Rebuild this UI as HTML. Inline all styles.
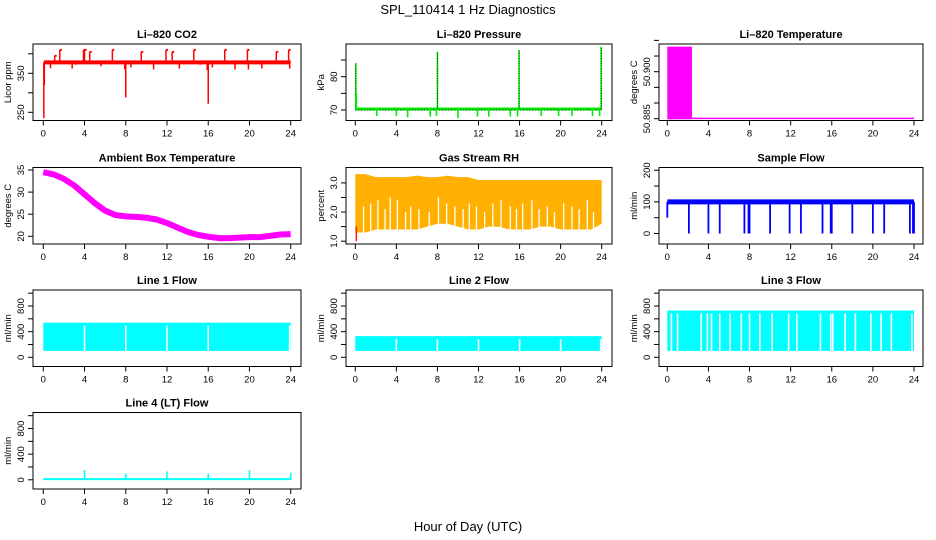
<!DOCTYPE html>
<html><head><meta charset="utf-8"><style>
html,body{margin:0;padding:0;background:#fff}
svg{display:block;font-family:"Liberation Sans",sans-serif}
</style></head><body>
<svg id="c" width="936" height="540" viewBox="0 0 936 540" xmlns="http://www.w3.org/2000/svg">
<text x="468" y="14" text-anchor="middle" font-size="13">SPL_110414  1 Hz Diagnostics</text>
<text x="468" y="531" text-anchor="middle" font-size="13">Hour of Day (UTC)</text>
</svg>
<script>
// ---- data ----
const xTicks = [0,4,8,12,16,20,24];
const co2Base = 378;
const co2SpikeTimes = [0.05,0.1,0.7,1.1,1.6,2.8,3.2,3.9,4.0,4.5,5.6,6.7,7.9,8.0,8.5,9.5,10.7,11.9,12.5,13.2,14.6,15.2,15.9,16.0,16.4,17.6,18.6,19.8,19.9,21.2,22.6,23.8,23.9];
const co2SpikeVals = [235,320,363,395,410,362,372,410,410,405,368,410,360,288,365,405,360,410,405,362,410,372,358,272,365,410,360,410,360,362,405,410,362];
const presBase = 70.3;
const presSpikeTimes = [0.05,0.1,2.1,4.0,5.1,7.3,7.9,8.0,10.0,11.9,13.0,15.1,15.8,15.95,18.1,19.8,21.1,23.1,23.8,23.95];
const presSpikeVals = [84,75,68.2,68.2,67.8,68,68.2,87.5,67.5,68,68,68,68,88,68.2,68.2,68.2,68.2,68.2,89];
const tempHiEnd = 2.4;
const tempRange = [50.8848,50.908];
const tempAfter = 50.8851;
const ambHours = [0,1,2,3,4,5,6,7,8,9,10,11,12,13,14,15,16,17,18,19,20,21,22,23,24];
const ambVals = [34.5,34.0,33.0,31.5,29.5,27.5,25.8,24.8,24.5,24.4,24.2,23.8,23.0,22.0,21.0,20.3,19.9,19.6,19.6,19.7,19.8,19.8,20.1,20.4,20.5];
const rhHours = [0,1,2,3,4,5,6,7,8,9,10,11,12,13,14,15,16,17,18,19,20,21,22,23,24];
const rhTop = [3.3,3.3,3.2,3.2,3.2,3.2,3.25,3.2,3.2,3.25,3.2,3.2,3.1,3.1,3.1,3.1,3.1,3.1,3.1,3.1,3.1,3.1,3.1,3.1,3.1];
const rhBot = [1.3,1.3,1.4,1.4,1.4,1.4,1.4,1.5,1.6,1.6,1.5,1.4,1.4,1.5,1.5,1.4,1.4,1.4,1.5,1.5,1.4,1.4,1.4,1.4,1.6];
const rhGapTimes = [0.8,1.5,2.2,2.9,3.4,4.1,4.9,5.4,6.2,7.2,8.1,8.9,9.7,10.5,11.1,11.8,12.6,13.4,14.2,15.1,15.7,16.3,17.2,17.9,18.7,19.4,20.3,21.1,21.8,22.6,23.2];
const rhGapVals = [2.2,2.3,2.4,2.1,2.5,2.4,2.0,2.2,2.1,2.0,2.5,2.3,2.2,2.1,2.3,2.2,2.0,2.3,2.4,2.2,2.1,2.3,2.4,2.1,2.2,2.0,2.3,2.2,2.1,2.4,2.0];
const sfBase = 100;
const sfDropTimes = [0,2.1,4.0,5.1,7.5,7.9,8.0,10.0,11.9,13.0,15.1,15.9,16.0,18.0,20.0,21.1,23.6,23.9,24];
const sfDropVals = [50,0,0,0,0,0,0,0,0,0,0,0,0,0,0,0,0,0,0];
const flowNames = ["Line 1 Flow","Line 2 Flow","Line 3 Flow"];
const flowTop = [540,330,730];
const flowBot = [100,100,100];
const flow1Gaps = [4.0,8.0,12.0,16.0,23.9];
const flow2Gaps = [4.0,8.0,12.0,16.0,20.0,23.9];
const flow3Gaps = [0.4,1.0,3.3,3.9,4.3,5.1,6.1,7.2,8.0,9.0,10.2,11.8,12.6,14.9,15.9,16.1,17.3,18.3,19.8,20.8,21.8,23.8];
const l4SpikeTimes = [4,8,12,16,20,24];
const l4SpikeVals = [150,100,130,100,150,110];

// ---- helpers ----
const S = document.getElementById('c');
const NS = 'http://www.w3.org/2000/svg';
function mk(tag, attrs, parent){const e=document.createElementNS(NS,tag);for(const k in attrs)e.setAttribute(k,attrs[k]);(parent||S).appendChild(e);return e;}
const cols = [{l:33,r:301,x0:43.3,x24:290.7},{l:346,r:612,x0:355.3,x24:601.7},{l:659,r:923,x0:667.3,x24:914}];
const rowsT = [44,167.5,290,412.5];
const BH = 76.5;

function makePanel(name,title,col,row,v1,o1,v2,o2,yTicks,yLabels,ylab){
  const c=cols[col], t=rowsT[row], b=t+BH;
  const g=mk('g',{});
  
  
  const X=h=>c.x0+(h/24)*(c.x24-c.x0);
  const Y=v=>t+o1+(v-v1)*(o2-o1)/(v2-v1);
  const tt=mk('text',{x:(c.l+c.r)/2,y:t-6,'text-anchor':'middle','font-size':'11','font-weight':'bold'},g);
  tt.textContent=title;
  
  
  const plot=mk('g',{},g);
  const box=mk('rect',{x:c.l,y:t,width:c.r-c.l,height:BH,fill:'none',stroke:'#000','stroke-width':1},g);
  
  
  const xa=mk('g',{},g);
  
  
  xTicks.forEach(h=>{
    mk('line',{x1:X(h),x2:X(h),y1:b,y2:b+5,stroke:'#000'},xa);
    const tx=mk('text',{x:X(h),y:b+16,'text-anchor':'middle','font-size':'9.5'},xa);tx.textContent=h;
  });
  const ya=mk('g',{},g);
  
  
  yTicks.forEach(v=>mk('line',{x1:c.l-5,x2:c.l,y1:Y(v),y2:Y(v),stroke:'#000'},ya));
  yLabels.forEach(v=>{
    const yy=Y(v.v);
    const tx=mk('text',{x:c.l-9,y:yy,'text-anchor':'middle','font-size':'9.5',transform:`rotate(-90 ${c.l-9} ${yy})`},ya);tx.textContent=v.t;
  });
  const yt=mk('text',{x:c.l-22,y:t+BH/2,'text-anchor':'middle','font-size':'9.5',transform:`rotate(-90 ${c.l-22} ${t+BH/2})`},ya);
  yt.textContent=ylab;
  
  
  return {plot,X,Y,c,t,b};
}
function vline(p,x,y1,y2,col,w){return mk('line',{x1:x,x2:x,y1:y1,y2:y2,stroke:col,'stroke-width':w||1.3},p);}

// CO2
{const P=makePanel('co2-panel','Li\u2013820 CO2',0,0,350,29.3,250,68.3,[250,300,350,400],[{v:250,t:'250'},{v:350,t:'350'}],'Licor ppm');
 const l=mk('line',{x1:P.X(0.05),x2:P.X(24),y1:P.Y(co2Base),y2:P.Y(co2Base),stroke:'#ff0000','stroke-width':4},P.plot);
 
 co2SpikeTimes.forEach((h,i)=>{const e=vline(P.plot,P.X(h),P.Y(co2Base),P.Y(co2SpikeVals[i]),'#ff0000',1.5);
  
  if(co2SpikeVals[i]>co2Base)mk('line',{x1:P.X(h),x2:P.X(h)+2,y1:P.Y(co2SpikeVals[i]),y2:P.Y(co2SpikeVals[i]),stroke:'#ff0000','stroke-width':2},P.plot);});
}
// Pressure
{const P=makePanel('pressure-panel','Li\u2013820 Pressure',1,0,70,66,80,32.7,[70,75,80,85],[{v:70,t:'70'},{v:80,t:'80'}],'kPa');
 const l=mk('line',{x1:P.X(0),x2:P.X(24),y1:P.Y(presBase),y2:P.Y(presBase),stroke:'#00ee00','stroke-width':3},P.plot);
 
 mk('line',{x1:P.X(0),x2:P.X(24),y1:P.Y(presBase)+1,y2:P.Y(presBase)+1,stroke:'#000','stroke-width':1,'stroke-dasharray':'1 2'},P.plot);
 presSpikeTimes.forEach((h,i)=>{const e=vline(P.plot,P.X(h),P.Y(presBase),P.Y(presSpikeVals[i]),'#00ee00',1.6);
  
  if(presSpikeVals[i]>80)mk('line',{x1:P.X(h),x2:P.X(h),y1:P.Y(presBase),y2:P.Y(presSpikeVals[i]),stroke:'#000','stroke-width':0.8,'stroke-dasharray':'1 1.5'},P.plot);});
}
// Li-820 temperature
{const P=makePanel('li820-temperature-panel','Li\u2013820 Temperature',2,0,50.885,74.7,50.900,27.7,[50.885,50.890,50.895,50.900,50.905,50.910],[{v:50.885,t:'50.885'},{v:50.900,t:'50.900'}],'degrees C');
 const r=mk('rect',{x:P.X(0),y:P.Y(tempRange[1]),width:P.X(tempHiEnd)-P.X(0),height:P.Y(tempRange[0])-P.Y(tempRange[1]),fill:'#ff00ff'},P.plot);
 
 const l=mk('line',{x1:P.X(tempHiEnd),x2:P.X(24),y1:P.Y(tempAfter),y2:P.Y(tempAfter),stroke:'#ff00ff','stroke-width':1.5},P.plot);
 
}
// Ambient
{const P=makePanel('ambient-temperature-panel','Ambient Box Temperature',0,1,35,2.5,20,68.8,[20,25,30,35],[{v:20,t:'20'},{v:25,t:'25'},{v:30,t:'30'},{v:35,t:'35'}],'degrees C');
 const pts=ambHours.map((h,i)=>P.X(h)+','+P.Y(ambVals[i])).join(' ');
 const l=mk('polyline',{points:pts,fill:'none',stroke:'#ff00ff','stroke-width':6,'stroke-linejoin':'round'},P.plot);
 
}
// RH
{const P=makePanel('gas-stream-rh-panel','Gas Stream RH',1,1,3.0,15.4,1.0,73.7,[1.0,1.5,2.0,2.5,3.0],[{v:1.0,t:'1.0'},{v:2.0,t:'2.0'},{v:3.0,t:'3.0'}],'percent');
 const top=rhHours.map((h,i)=>P.X(h)+','+P.Y(rhTop[i]));
 const bot=rhHours.map((h,i)=>P.X(h)+','+P.Y(rhBot[i])).reverse();
 const pg=mk('polygon',{points:top.concat(bot).join(' '),fill:'#ffb000'},P.plot);
 
 rhGapTimes.forEach((h,i)=>{const e=vline(P.plot,P.X(h),P.Y(1.2),P.Y(rhGapVals[i]),'#ffffff',1.3);
  });
 vline(P.plot,P.X(0.1),P.Y(1.5),P.Y(1.0),'#ff2000',1.5);
}
// Sample flow
{const P=makePanel('sample-flow-panel','Sample Flow',2,1,200,2.7,0,66,[0,50,100,150,200],[{v:0,t:'0'},{v:100,t:'100'},{v:200,t:'200'}],'ml/min');
 const l=mk('line',{x1:P.X(0),x2:P.X(24),y1:P.Y(sfBase),y2:P.Y(sfBase),stroke:'#0000ff','stroke-width':5},P.plot);
 
 sfDropTimes.forEach((h,i)=>{const e=vline(P.plot,P.X(h),P.Y(sfBase),P.Y(sfDropVals[i]),'#0000ff',1.8);
  });
}
// Line flows
const flowGaps=[flow1Gaps,flow2Gaps,flow3Gaps];
flowNames.forEach((nm,k)=>{
 const P=makePanel('line'+(k+1)+'-flow-panel',nm,k,2,800,16,0,67.3,[0,200,400,600,800,1000],[{v:0,t:'0'},{v:400,t:'400'},{v:800,t:'800'}],'ml/min');
 const r=mk('rect',{x:P.X(0),y:P.Y(flowTop[k]),width:P.X(24)-P.X(0),height:P.Y(flowBot[k])-P.Y(flowTop[k]),fill:'#00ffff'},P.plot);
 
 flowGaps[k].forEach(h=>{const e=vline(P.plot,P.X(h),P.Y(flowTop[k])+3,P.Y(flowBot[k])+1,'#ffffff',1.6);
  });
});
// Line 4
{const P=makePanel('line4-flow-panel','Line 4 (LT) Flow',0,3,800,16,0,67.3,[0,200,400,600,800,1000],[{v:0,t:'0'},{v:400,t:'400'},{v:800,t:'800'}],'ml/min');
 const l=mk('line',{x1:P.X(0),x2:P.X(24),y1:P.Y(10),y2:P.Y(10),stroke:'#00ffff','stroke-width':2},P.plot);
 
 l4SpikeTimes.forEach((h,i)=>{const e=vline(P.plot,P.X(h),P.Y(0),P.Y(l4SpikeVals[i]),'#00ffff',1.6);
  });
}
</script>
</body></html>
